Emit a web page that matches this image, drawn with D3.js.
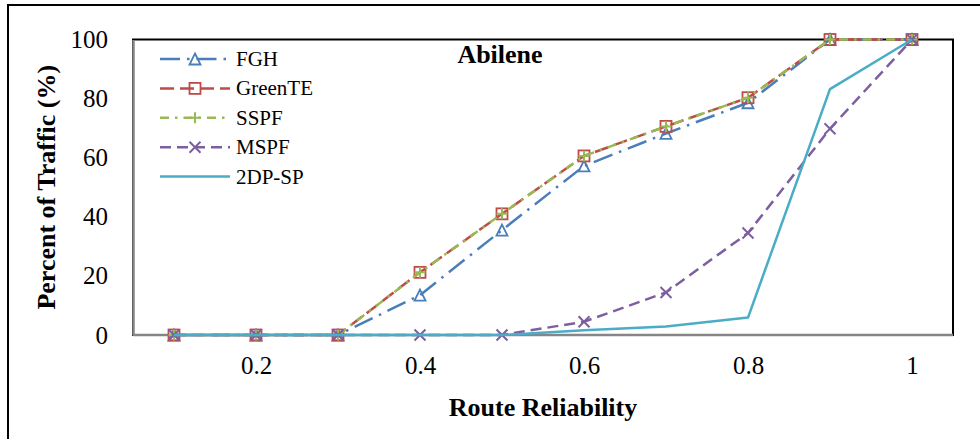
<!DOCTYPE html>
<html>
<head>
<meta charset="utf-8">
<script src="https://cdn.jsdelivr.net/npm/d3@7"></script>
<style>
  html, body { margin: 0; padding: 0; background: #fff; }
  svg { display: block; }
  svg text { font-family: "Liberation Serif", "DejaVu Serif", serif; }
</style>
</head>
<body>
<svg id="chart" width="980" height="439"></svg>
<script>
// Route reliability categories and share of traffic (%) per scheme
const reliability = ["0.1", "0.2", "0.3", "0.4", "0.5", "0.6", "0.7", "0.8", "0.9", "1"];
const tickLabels = ["0.2", "0.4", "0.6", "0.8", "1"];
const yTicks = [0, 20, 40, 60, 80, 100];

const fgh    = [0, 0, 0, 13.5, 35.5, 57.2, 68.2, 78.6, 100, 100];
const greenTE = [0, 0, 0, 21.2, 41, 60.6, 70.6, 80.3, 100, 100];
const sspf   = [0, 0, 0, 21.2, 41, 60.6, 70.6, 80.3, 100, 100];
const mspf   = [0, 0, 0, 0, 0, 4.5, 14.4, 34.5, 69.8, 100];
const dp2sp  = [0, 0, 0, 0, 0, 1.6, 2.9, 5.9, 83.2, 100];

const series = [
  { name: "FGH",     values: fgh,     color: "#4a7ebb", dash: "20,7,2.5,7", marker: "triangle" },
  { name: "GreenTE", values: greenTE, color: "#be4b48", dash: "14,6",        marker: "square" },
  { name: "SSPF",    values: sspf,    color: "#98b954", dash: "9,6,2.5,6",   marker: "plus" },
  { name: "MSPF",    values: mspf,    color: "#7d5fa0", dash: "11,6",        marker: "cross" },
  { name: "2DP-SP",  values: dp2sp,   color: "#4bacc6", dash: null,          marker: null }
];

const serif = "'Liberation Serif', 'DejaVu Serif', serif";
const svg = d3.select("#chart");
const plot = { left: 133, right: 953, top: 39.5, bottom: 335 };

// Outer frame around the figure
svg.append("rect")
  .attr("x", 8).attr("y", 5).attr("width", 1000).attr("height", 1000)
  .attr("fill", "none").attr("stroke", "#000").attr("stroke-width", 2);

const x = d3.scalePoint().domain(reliability).range([plot.left, plot.right]).padding(0.5);
const y = d3.scaleLinear().domain([0, 100]).range([plot.bottom, plot.top]);

// Plot-area border (top and right), axes drawn in grey on left and bottom
svg.append("rect")
  .attr("x", plot.left).attr("y", plot.top)
  .attr("width", plot.right - plot.left).attr("height", plot.bottom - plot.top)
  .attr("fill", "none").attr("stroke", "#000").attr("stroke-width", 2);

const yAxis = d3.axisLeft(y).tickValues(yTicks).tickSize(0).tickPadding(25).tickFormat(d3.format("d"));
const gy = svg.append("g").attr("transform", `translate(${plot.left},0)`).call(yAxis)
  .attr("font-family", serif).attr("font-size", 25);
gy.select(".domain").attr("stroke", "#868686").attr("stroke-width", 2.5);
gy.selectAll("text").attr("fill", "#000");

const xAxis = d3.axisBottom(x).tickValues(tickLabels).tickSize(0).tickPadding(21);
const gx = svg.append("g").attr("transform", `translate(0,${plot.bottom})`).call(xAxis)
  .attr("font-family", serif).attr("font-size", 25);
gx.select(".domain").attr("stroke", "#868686").attr("stroke-width", 2.5)
  .attr("d", `M${plot.left},0H${plot.right}`);
gx.selectAll("text").attr("fill", "#000");

// Axis titles and chart title
svg.append("text")
  .attr("transform", `translate(55,${(plot.top + plot.bottom) / 2}) rotate(-90)`)
  .attr("text-anchor", "middle").attr("font-size", 26).attr("font-weight", "bold")
  .text("Percent of Traffic (%)");

svg.append("text")
  .attr("x", (plot.left + plot.right) / 2).attr("y", 416)
  .attr("text-anchor", "middle").attr("font-size", 26).attr("font-weight", "bold")
  .text("Route Reliability");

svg.append("text")
  .attr("x", 500).attr("y", 63)
  .attr("text-anchor", "middle").attr("font-size", 26).attr("font-weight", "bold")
  .text("Abilene");

// Marker shapes
function drawMarker(g, type, color) {
  const s = 5.5;
  if (type === "triangle") {
    g.append("path").attr("d", `M0,${-s}L${s},${s}L${-s},${s}Z`)
      .attr("fill", "none").attr("stroke", color).attr("stroke-width", 1.8);
  } else if (type === "square") {
    g.append("rect").attr("x", -s).attr("y", -s).attr("width", 2 * s).attr("height", 2 * s)
      .attr("fill", "none").attr("stroke", color).attr("stroke-width", 1.8);
  } else if (type === "plus") {
    g.append("path").attr("d", `M${-s},0H${s}M0,${-s}V${s}`)
      .attr("fill", "none").attr("stroke", color).attr("stroke-width", 2);
  } else if (type === "cross") {
    g.append("path").attr("d", `M${-s},${-s}L${s},${s}M${-s},${s}L${s},${-s}`)
      .attr("fill", "none").attr("stroke", color).attr("stroke-width", 2);
  }
}

const line = d3.line().x((d, i) => x(reliability[i])).y(d => y(d));

series.forEach(s => {
  svg.append("path")
    .datum(s.values)
    .attr("d", line)
    .attr("fill", "none")
    .attr("stroke", s.color)
    .attr("stroke-width", 2.5)
    .attr("stroke-linejoin", "round")
    .attr("stroke-dasharray", s.dash);
  if (s.marker) {
    s.values.forEach((v, i) => {
      const g = svg.append("g").attr("transform", `translate(${x(reliability[i])},${y(v)})`);
      drawMarker(g, s.marker, s.color);
    });
  }
});

// Legend
const legend = svg.append("g");
series.forEach((s, i) => {
  const ly = 59 + i * 29.4;
  legend.append("line")
    .attr("x1", 160).attr("x2", 230).attr("y1", ly).attr("y2", ly)
    .attr("stroke", s.color).attr("stroke-width", 2.5)
    .attr("stroke-dasharray", s.dash);
  if (s.marker) {
    const g = legend.append("g").attr("transform", `translate(195,${ly})`);
    drawMarker(g, s.marker, s.color);
  }
  legend.append("text")
    .attr("x", 236).attr("y", ly + 7)
    .attr("font-size", 21)
    .text(s.name);
});
</script>
</body>
</html>
